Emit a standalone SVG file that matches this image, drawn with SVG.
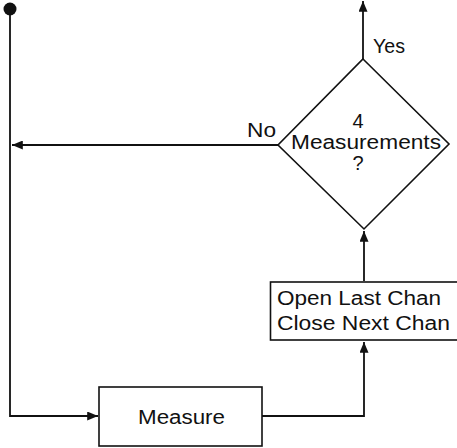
<svg xmlns="http://www.w3.org/2000/svg" width="457" height="448" viewBox="0 0 457 448">
<style>
.box{fill:#fff;stroke:#111;stroke-width:1.6}
.ln{fill:none;stroke:#111;stroke-width:1.8}
.t{font-family:"Liberation Sans",Arial,sans-serif;font-size:20px;fill:#111}
</style>
<defs>
<marker id="ah" viewBox="0 0 12 10" refX="12" refY="5" markerWidth="12" markerHeight="9" markerUnits="userSpaceOnUse" orient="auto">
<path d="M0,0 L12,5 L0,10 Z" fill="#111"/>
</marker>
</defs>
<rect width="457" height="448" fill="#fff"/>
<g id="connectors">
<circle cx="10" cy="9" r="6.5" fill="#111"/>
<path class="ln" d="M10,9 V416 H98" marker-end="url(#ah)"/>
<path class="ln" d="M278,145 H12" marker-end="url(#ah)"/>
<path class="ln" d="M363,59 V1" marker-end="url(#ah)"/>
<path class="ln" d="M364,281 V231" marker-end="url(#ah)"/>
<path class="ln" d="M262,416 H364 V342" marker-end="url(#ah)"/>
<text class="t" x="373" y="53" textLength="32" lengthAdjust="spacingAndGlyphs">Yes</text>
<text class="t" x="247" y="137" textLength="29" lengthAdjust="spacingAndGlyphs">No</text>
</g>
<g id="decision">
<path class="box" d="M363,59 L449,144 L364,229 L278,145 Z"/>
<text class="t" x="358" y="128" text-anchor="middle">4</text>
<text class="t" x="291" y="149" textLength="150" lengthAdjust="spacingAndGlyphs">Measurements</text>
<text class="t" x="358" y="170" text-anchor="middle">?</text>
</g>
<g id="switch">
<rect class="box" x="270.5" y="282" width="190" height="58"/>
<text class="t" x="277" y="305" textLength="164" lengthAdjust="spacingAndGlyphs">Open Last Chan</text>
<text class="t" x="277" y="330" textLength="173" lengthAdjust="spacingAndGlyphs">Close Next Chan</text>
</g>
<g id="measure">
<rect class="box" x="99" y="387" width="163" height="59"/>
<text class="t" x="138" y="424" textLength="87" lengthAdjust="spacingAndGlyphs">Measure</text>
</g>
</svg>
